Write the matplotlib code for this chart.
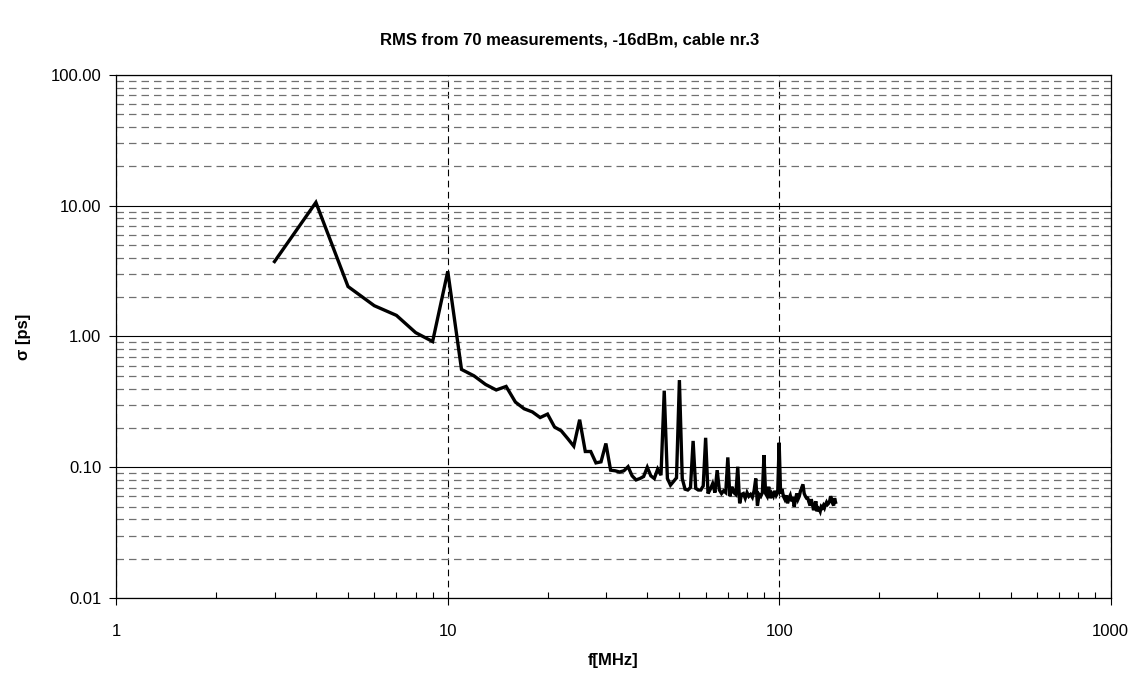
import matplotlib.pyplot as plt
from matplotlib.ticker import FixedLocator, FuncFormatter, NullFormatter

plt.rcParams["font.family"] = ["Liberation Sans", "DejaVu Sans"]

freq_mhz = list(range(3, 149))
sigma_ps = [
    3.74, 10.6, 2.41, 1.72, 1.45, 1.07, 0.915, 3.15, 0.56, 0.50,
    0.43, 0.39, 0.415, 0.315, 0.28, 0.265, 0.24, 0.255, 0.203, 0.19,
    0.166, 0.145, 0.231, 0.132, 0.132, 0.108, 0.11, 0.152, 0.095, 0.094,
    0.092, 0.094, 0.101, 0.086, 0.08, 0.082, 0.085, 0.1, 0.086, 0.082,
    0.097, 0.087, 0.385, 0.082, 0.073, 0.078, 0.083, 0.464, 0.082, 0.068,
    0.067, 0.07, 0.159, 0.069, 0.067, 0.067, 0.072, 0.168, 0.063, 0.068,
    0.075, 0.064, 0.095, 0.067, 0.063, 0.066, 0.064, 0.119, 0.06, 0.071,
    0.064, 0.062, 0.101, 0.053, 0.062, 0.063, 0.058, 0.064, 0.06, 0.062,
    0.059, 0.066, 0.082, 0.051, 0.062, 0.06, 0.064, 0.124, 0.063, 0.06,
    0.071, 0.058, 0.063, 0.06, 0.066, 0.061, 0.064, 0.154, 0.063, 0.068,
    0.06, 0.057, 0.061, 0.053, 0.058, 0.061, 0.055, 0.059, 0.05, 0.056,
    0.063, 0.057, 0.06, 0.066, 0.07, 0.074, 0.063, 0.06, 0.058, 0.058,
    0.054, 0.051, 0.057, 0.052, 0.047, 0.05, 0.055, 0.046, 0.049, 0.048,
    0.046, 0.05, 0.049, 0.051, 0.049, 0.052, 0.054, 0.052, 0.053, 0.055,
    0.06, 0.057, 0.053, 0.051, 0.058, 0.054,
]

x_ticks = [1, 10, 100, 1000]
y_ticks = [0.01, 0.1, 1, 10, 100]

fig = plt.figure(figsize=(11.39, 6.75), dpi=100)
ax = fig.add_axes([0.1022, 0.114, 0.8728, 0.775])

ax.set_xscale("log")
ax.set_yscale("log")
ax.set_xlim(1, 1000)
ax.set_ylim(0.01, 100)

ax.xaxis.set_major_locator(FixedLocator(x_ticks))
ax.xaxis.set_major_formatter(FuncFormatter(lambda v, p: f"{v:g}"))
ax.xaxis.set_minor_locator(FixedLocator([m * d for d in (1, 10, 100) for m in range(2, 10)]))
ax.xaxis.set_minor_formatter(NullFormatter())
ax.yaxis.set_major_locator(FixedLocator(y_ticks))
ax.yaxis.set_major_formatter(FuncFormatter(lambda v, p: f"{v:.2f}"))
ax.yaxis.set_minor_locator(FixedLocator([m * d for d in (0.01, 0.1, 1, 10) for m in range(2, 10)]))
ax.yaxis.set_minor_formatter(NullFormatter())

ax.grid(axis="y", which="major", color="black", lw=0.8, ls="-")
ax.grid(axis="y", which="minor", color="#707070", lw=0.9, ls=(0, (6, 4)))
ax.grid(axis="x", which="major", color="black", lw=0.8, ls=(0, (6, 4)))
ax.set_axisbelow(True)

ax.tick_params(axis="both", which="major", direction="out", length=5, width=0.8, labelsize=12, pad=6)
ax.tick_params(axis="x", which="major", pad=14)
ax.tick_params(axis="x", which="minor", direction="in", length=4, width=0.8)
ax.tick_params(axis="y", which="minor", length=0)
for s in ax.spines.values():
    s.set_linewidth(0.9)

ax.plot(freq_mhz, sigma_ps, color="black", lw=2.4, solid_joinstyle="miter")

fig.text(0.5, 1 - 40 / 675, "RMS from 70 measurements, -16dBm, cable nr.3",
         fontsize=12, fontweight="bold", ha="center", va="center")
ax.set_xlabel("f[MHz]", fontsize=12, fontweight="bold", labelpad=10)
ax.set_ylabel("σ [ps]", fontsize=12, fontweight="bold", labelpad=14)

fig.savefig("out.png", dpi=100)
